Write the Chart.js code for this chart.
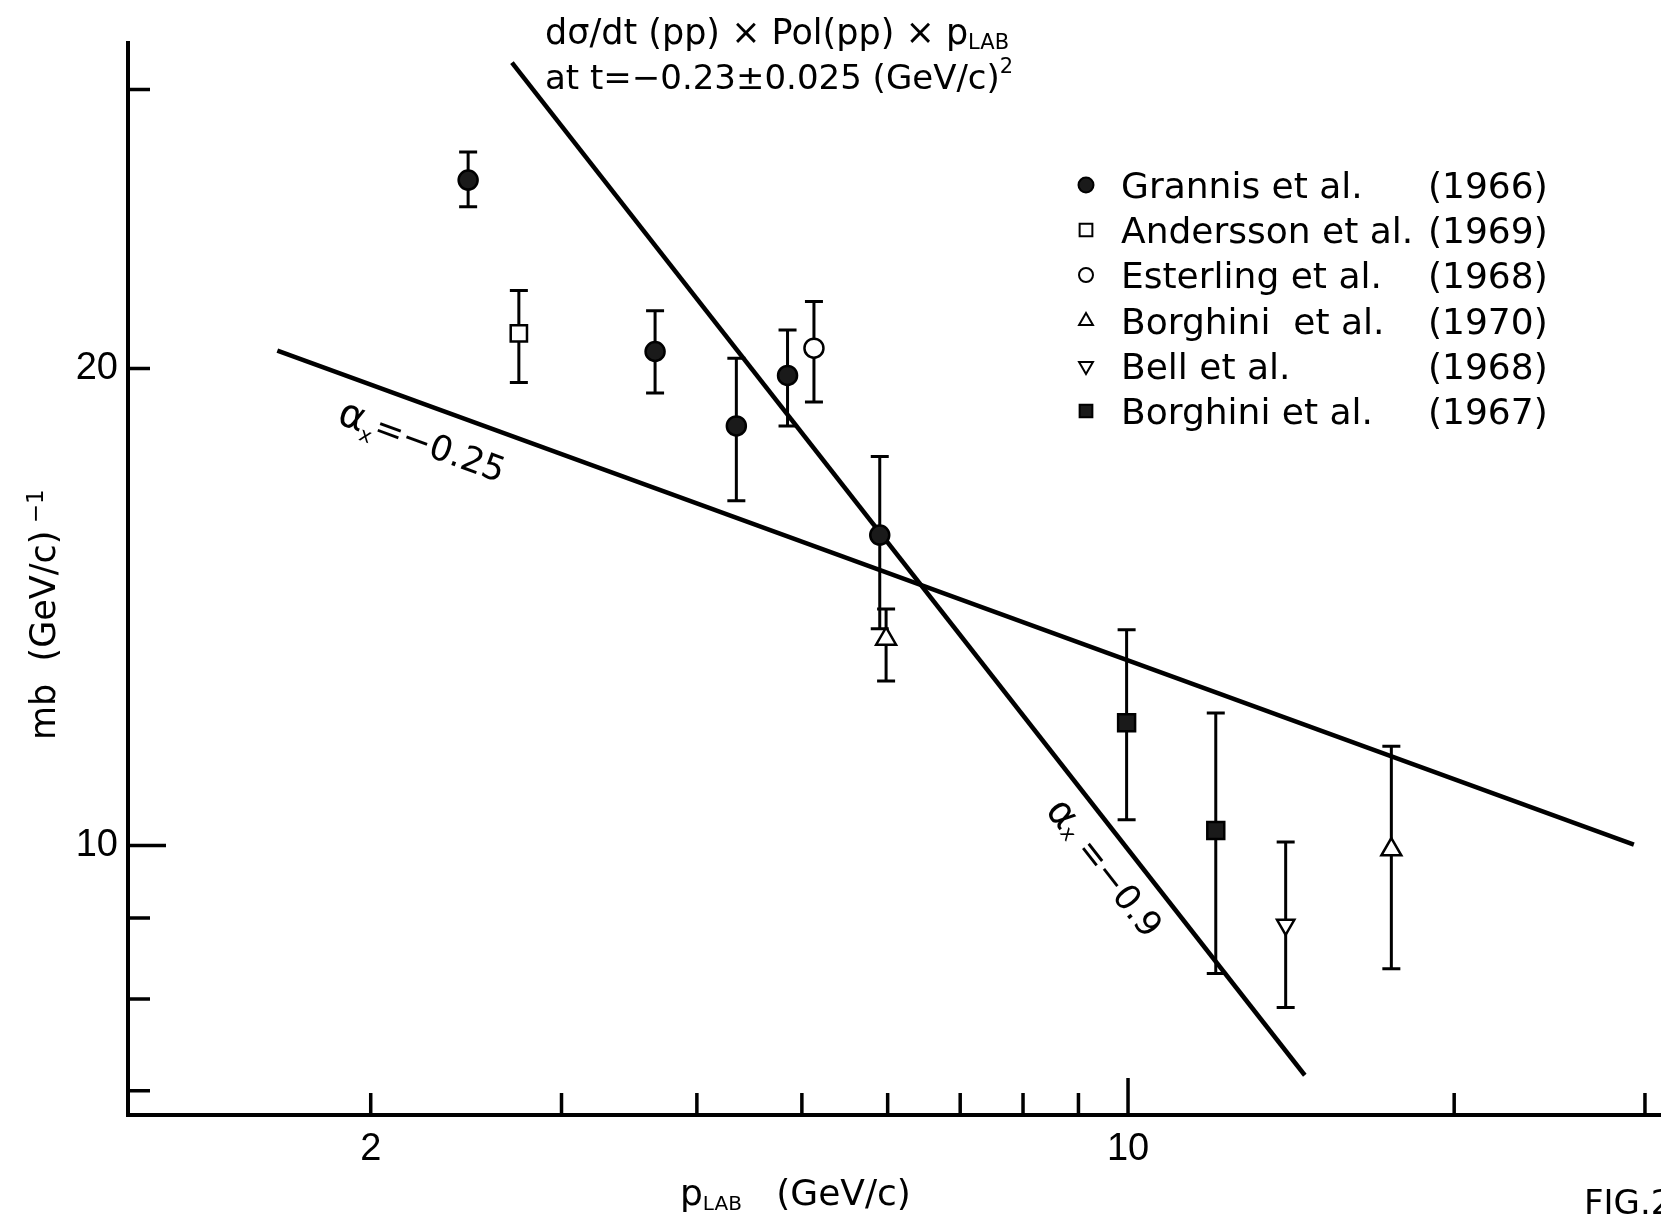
<!DOCTYPE html>
<html>
<head>
<meta charset="utf-8">
<title>FIG. 2</title>
<script src="https://cdn.jsdelivr.net/npm/chart.js@4.4.1/dist/chart.umd.min.js"></script>
<style>
  html, body { margin: 0; padding: 0; background: #fff; }
  canvas { display: block; }
</style>
</head>
<body>
<canvas id="the-chart" width="1661" height="1223"></canvas>
<script>
//
// dsigma/dt * Pol * p_LAB versus p_LAB, log-log
//

// Data (x: p_LAB in GeV/c, y: mb (GeV/c)^-1).
const grannisX = [2.46, 3.66, 4.35, 4.85, 5.90];
const grannisY = [26.3, 20.5, 18.4, 19.8, 15.7];
const grannisLo = [25.3, 19.3, 16.5, 18.4, 13.7];
const grannisHi = [27.4, 21.75, 20.3, 21.15, 17.6];

const anderssonX = [2.74];
const anderssonY = [21.05];
const anderssonLo = [19.6];
const anderssonHi = [22.4];

const esterlingX = [5.13];
const esterlingY = [20.6];
const esterlingLo = [19.05];
const esterlingHi = [22.05];

const borghini70X = [5.98, 17.5];
const borghini70Y = [13.5, 9.94];
const borghini70Lo = [12.7, 8.36];
const borghini70Hi = [14.1, 11.55];

const bellX = [13.98];
const bellY = [8.91];
const bellLo = [7.9];
const bellHi = [10.05];

const borghini67X = [9.97, 12.05];
const borghini67Y = [11.95, 10.22];
const borghini67Lo = [10.38, 8.3];
const borghini67Hi = [13.68, 12.12];

// The two drawn fits.
const flatFitX = [1.64, 29.3];
const flatFitY = [20.53, 10.01];
const steepFitX = [2.70, 14.56];
const steepFitY = [31.2, 7.16];

// Legend text.
const seriesNames = ['Grannis et al.', 'Andersson et al.', 'Esterling et al.', 'Borghini  et al.', 'Bell et al.', 'Borghini et al.'];
const seriesYears = ['(1966)', '(1969)', '(1968)', '(1970)', '(1968)', '(1967)'];

// Axes.
const xMin = 1.194, xMax = 31.04;
const yMin = 6.758, yMax = 32.1;
const xTickValues = [2, 3, 4, 5, 6, 7, 8, 9, 10, 20, 30];
const xLabeledTicks = [2, 10];
const yTickValues = [7, 8, 9, 10, 20, 30];
const yLabeledTicks = [10, 20];
const longTicks = [10];

const tickFont = "'Liberation Sans', Arial, sans-serif";
const textFont = "'DejaVu Sans', 'Liberation Sans', sans-serif";

function points(xs, ys, lo, hi) {
  return xs.map((x, i) => ({ x: x, y: ys[i], lo: lo ? lo[i] : null, hi: hi ? hi[i] : null }));
}

function markerSet(name, pts, style) {
  return Object.assign({
    type: 'scatter',
    label: name,
    data: pts,
    showLine: false,
    pointBorderColor: '#000',
    pointBorderWidth: 2.5,
    errorBars: true
  }, style);
}

function fitLine(xs, ys) {
  return {
    type: 'line',
    data: points(xs, ys),
    borderColor: '#000',
    borderWidth: 4.5,
    pointRadius: 0,
    fill: false,
    tension: 0
  };
}

// Draw a run of text pieces (for sub/superscripts), left to right from x.
function drawPieces(ctx, pieces, x, y) {
  for (const p of pieces) {
    ctx.font = `${p.size}px ${textFont}`;
    ctx.fillText(p.text, x, y + (p.dy || 0));
    x += ctx.measureText(p.text).width;
  }
  return x;
}

function piecesWidth(ctx, pieces) {
  let w = 0;
  for (const p of pieces) {
    ctx.font = `${p.size}px ${textFont}`;
    w += ctx.measureText(p.text).width;
  }
  return w;
}

// Label placed along a fit line: t = fraction along it, off = distance off the line.
function labelAlongLine(chart, xs, ys, t, off, pieces) {
  const { ctx, scales } = chart;
  const x0 = scales.x.getPixelForValue(xs[0]), y0 = scales.y.getPixelForValue(ys[0]);
  const x1 = scales.x.getPixelForValue(xs[1]), y1 = scales.y.getPixelForValue(ys[1]);
  const ang = Math.atan2(y1 - y0, x1 - x0);
  const cx = x0 + (x1 - x0) * t - Math.sin(ang) * off;
  const cy = y0 + (y1 - y0) * t + Math.cos(ang) * off;
  ctx.save();
  ctx.translate(cx, cy);
  ctx.rotate(ang);
  const w = piecesWidth(ctx, pieces);
  drawPieces(ctx, pieces, -w / 2, 12);
  ctx.restore();
}

const figurePlugin = {
  id: 'figure',
  beforeDatasetsDraw(chart) {
    // Error bars, under the markers.
    const { ctx, scales } = chart;
    ctx.save();
    ctx.strokeStyle = '#000';
    ctx.lineWidth = 3;
    chart.data.datasets.forEach((ds) => {
      if (!ds.errorBars) return;
      for (const p of ds.data) {
        const px = scales.x.getPixelForValue(p.x);
        const top = scales.y.getPixelForValue(p.hi);
        const bot = scales.y.getPixelForValue(p.lo);
        ctx.beginPath();
        ctx.moveTo(px, top);
        ctx.lineTo(px, bot);
        ctx.moveTo(px - 9, top);
        ctx.lineTo(px + 9, top);
        ctx.moveTo(px - 9, bot);
        ctx.lineTo(px + 9, bot);
        ctx.stroke();
      }
    });
    ctx.restore();
  },
  afterDraw(chart) {
    const { ctx, scales, chartArea } = chart;
    ctx.save();
    ctx.fillStyle = '#000';
    ctx.strokeStyle = '#000';
    ctx.textBaseline = 'alphabetic';
    ctx.textAlign = 'left';

    // Inward tick marks.
    ctx.lineWidth = 3.5;
    ctx.beginPath();
    for (const v of xTickValues) {
      const px = scales.x.getPixelForValue(v);
      const len = longTicks.includes(v) ? 37 : 22;
      ctx.moveTo(px, chartArea.bottom);
      ctx.lineTo(px, chartArea.bottom - len);
    }
    for (const v of yTickValues) {
      const py = scales.y.getPixelForValue(v);
      const len = longTicks.includes(v) ? 38 : 22;
      ctx.moveTo(chartArea.left, py);
      ctx.lineTo(chartArea.left + len, py);
    }
    ctx.stroke();

    // Title.
    drawPieces(ctx, [
      { text: 'dσ/dt (pp) × Pol(pp) × p', size: 35 },
      { text: 'LAB', size: 21, dy: 5 }
    ], 545, 44);
    drawPieces(ctx, [
      { text: 'at t=−0.23±0.025 (GeV/c)', size: 34 },
      { text: '2', size: 21, dy: -16 }
    ], 545, 89);

    // Axis titles.
    drawPieces(ctx, [
      { text: 'p', size: 36 },
      { text: 'LAB', size: 20, dy: 5 },
      { text: '   (GeV/c)', size: 36 }
    ], 680, 1205);
    ctx.save();
    ctx.translate(55, 740);
    ctx.rotate(-Math.PI / 2);
    drawPieces(ctx, [
      { text: 'mb  (GeV/c)', size: 35 },
      { text: ' −1', size: 23, dy: -12 }
    ], 0, 0);
    ctx.restore();

    // Fit labels.
    labelAlongLine(chart, flatFitX, flatFitY, 0.1157, 36, [
      { text: 'α', size: 40 },
      { text: 'x', size: 20, dy: 8 },
      { text: '=−0.25', size: 35 }
    ]);
    labelAlongLine(chart, steepFitX, steepFitY, 0.777, 30, [
      { text: 'α', size: 40 },
      { text: 'x', size: 20, dy: 2 },
      { text: ' =−0.9', size: 35 }
    ]);

    // Legend.
    const rowY = [185, 230, 275, 321, 366, 411];
    const markerSets = chart.data.datasets.filter((ds) => ds.errorBars);
    markerSets.forEach((ds, i) => {
      ctx.fillStyle = ds.pointBackgroundColor;
      ctx.strokeStyle = '#000';
      ctx.lineWidth = 2;
      Chart.helpers.drawPoint(ctx, {
        pointStyle: ds.pointStyle,
        rotation: ds.pointRotation || 0,
        radius: ds.legendRadius,
        borderWidth: 2
      }, 1086, rowY[i]);
      ctx.fillStyle = '#000';
      ctx.font = `36px ${textFont}`;
      ctx.fillText(seriesNames[i], 1121, rowY[i] + 13);
      ctx.fillText(seriesYears[i], 1428, rowY[i] + 13);
    });

    // Figure number, cut by the page edge.
    ctx.font = `34px ${textFont}`;
    ctx.fillText('FIG.2', 1584, 1214);
    ctx.restore();
  }
};

const ctx = document.getElementById('the-chart');
const theChart = new Chart(ctx, {
  type: 'scatter',
  data: {
    datasets: [
      markerSet(seriesNames[0], points(grannisX, grannisY, grannisLo, grannisHi),
        { pointStyle: 'circle', pointRadius: 9.5, pointBackgroundColor: '#1a1a1a', legendRadius: 7.5 }),
      markerSet(seriesNames[1], points(anderssonX, anderssonY, anderssonLo, anderssonHi),
        { pointStyle: 'rect', pointRadius: 11.5, pointBackgroundColor: '#fff', legendRadius: 9 }),
      markerSet(seriesNames[2], points(esterlingX, esterlingY, esterlingLo, esterlingHi),
        { pointStyle: 'circle', pointRadius: 9.5, pointBackgroundColor: '#fff', legendRadius: 7 }),
      markerSet(seriesNames[3], points(borghini70X, borghini70Y, borghini70Lo, borghini70Hi),
        { pointStyle: 'triangle', pointRadius: 11.5, pointBackgroundColor: '#fff', legendRadius: 8 }),
      markerSet(seriesNames[4], points(bellX, bellY, bellLo, bellHi),
        { pointStyle: 'triangle', pointRotation: 180, pointRadius: 10, pointBackgroundColor: '#fff', legendRadius: 8 }),
      markerSet(seriesNames[5], points(borghini67X, borghini67Y, borghini67Lo, borghini67Hi),
        { pointStyle: 'rect', pointRadius: 12, pointBackgroundColor: '#1a1a1a', legendRadius: 9 }),
      fitLine(flatFitX, flatFitY),
      fitLine(steepFitX, steepFitY)
    ]
  },
  options: {
    responsive: false,
    animation: false,
    devicePixelRatio: 1,
    layout: { autoPadding: false, padding: { top: 43, left: 0, right: 0, bottom: 0 } },
    plugins: {
      legend: { display: false },
      tooltip: { enabled: false },
      title: { display: false }
    },
    scales: {
      x: {
        type: 'logarithmic',
        position: 'bottom',
        min: xMin,
        max: xMax,
        afterBuildTicks: (scale) => { scale.ticks = xTickValues.map((v) => ({ value: v })); },
        afterFit: (scale) => { scale.height = 108; scale.paddingLeft = 0; scale.paddingRight = 0; },
        grid: { display: true, drawOnChartArea: false, drawTicks: false, lineWidth: 4 },
        border: { display: true, color: '#000', width: 4 },
        ticks: {
          autoSkip: false,
          maxRotation: 0,
          padding: 12,
          color: '#000',
          font: { family: tickFont, size: 38 },
          callback: (v) => xLabeledTicks.includes(v) ? String(v) : ''
        }
      },
      y: {
        type: 'logarithmic',
        position: 'left',
        min: yMin,
        max: yMax,
        afterBuildTicks: (scale) => { scale.ticks = yTickValues.map((v) => ({ value: v })); },
        afterFit: (scale) => { scale.width = 128; scale.paddingTop = 0; scale.paddingBottom = 0; },
        grid: { display: true, drawOnChartArea: false, drawTicks: false, lineWidth: 4 },
        border: { display: true, color: '#000', width: 4 },
        ticks: {
          autoSkip: false,
          padding: 10,
          color: '#000',
          font: { family: tickFont, size: 38 },
          callback: (v) => yLabeledTicks.includes(v) ? String(v) : ''
        }
      }
    }
  },
  plugins: [figurePlugin]
});
</script>
</body>
</html>
